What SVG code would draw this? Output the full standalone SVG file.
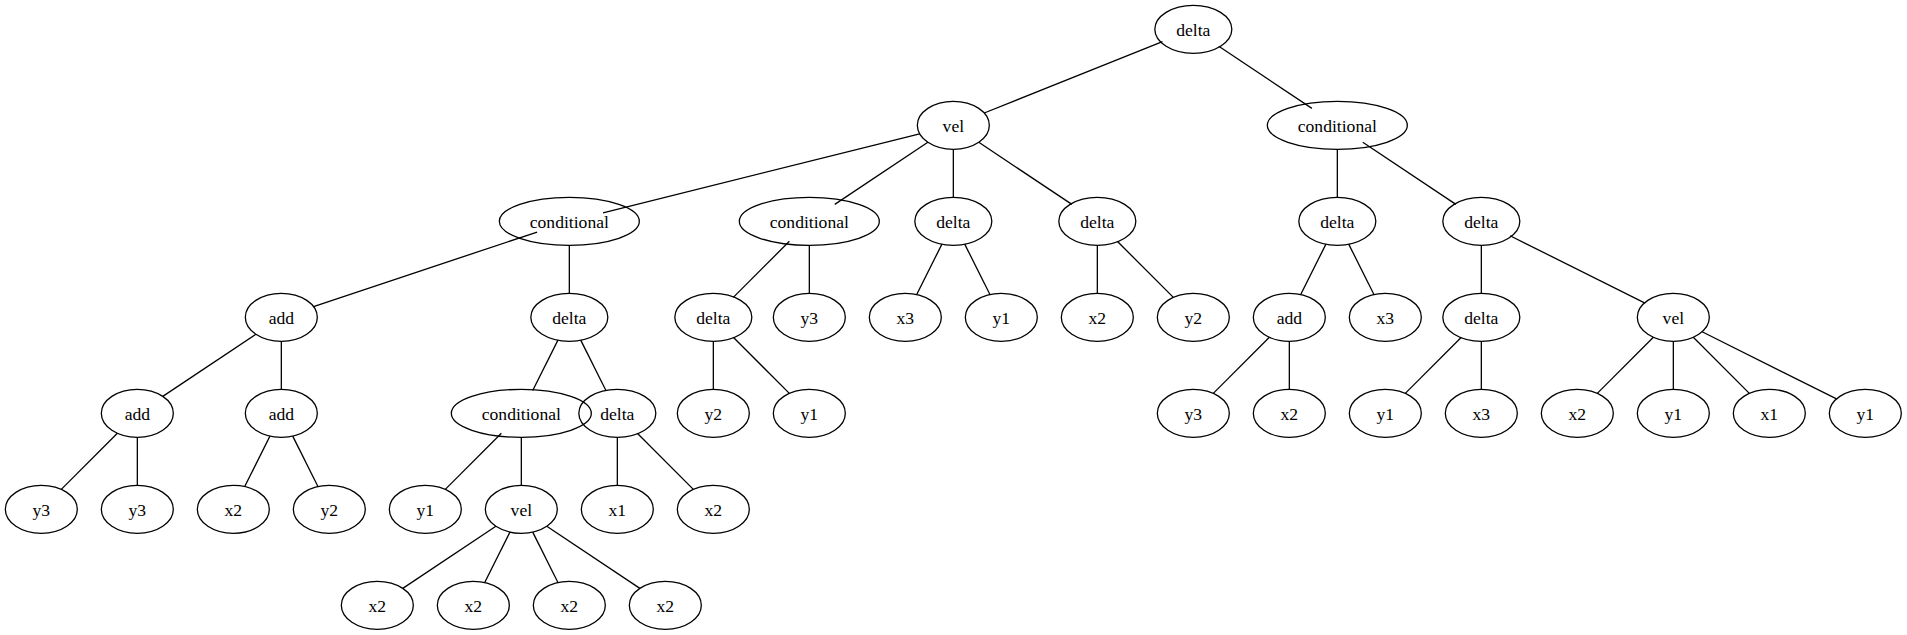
<svg xmlns="http://www.w3.org/2000/svg" width="1907" height="635" viewBox="0 0 1907 635">
<style>
.n ellipse{fill:none;stroke:#000;stroke-width:1.3}
.n text{font-family:"Liberation Serif","Times New Roman",serif;font-size:17.6px;text-anchor:middle;fill:#000}
#edges line{stroke:#000;stroke-width:1.3}
</style>
<rect width="1907" height="635" fill="#fff"/>
<g id="edges">
<line x1="1162.46" y1="41.68" x2="984.2" y2="112.98"/>
<line x1="1218.79" y1="46.3" x2="1311.87" y2="108.36"/>
<line x1="919.62" y1="133.76" x2="603.04" y2="212.9"/>
<line x1="927.87" y1="142.3" x2="834.79" y2="204.36"/>
<line x1="953.33" y1="149.33" x2="953.33" y2="197.33"/>
<line x1="978.79" y1="142.3" x2="1071.87" y2="204.36"/>
<line x1="1337.33" y1="149.33" x2="1337.33" y2="197.33"/>
<line x1="1362.79" y1="142.3" x2="1455.87" y2="204.36"/>
<line x1="537.13" y1="232.06" x2="313.53" y2="306.6"/>
<line x1="569.33" y1="245.33" x2="569.33" y2="293.33"/>
<line x1="789.36" y1="241.3" x2="733.3" y2="297.36"/>
<line x1="809.33" y1="245.33" x2="809.33" y2="293.33"/>
<line x1="941.95" y1="244.1" x2="916.71" y2="294.56"/>
<line x1="964.71" y1="244.1" x2="989.95" y2="294.56"/>
<line x1="1097.33" y1="245.33" x2="1097.33" y2="293.33"/>
<line x1="1117.3" y1="241.3" x2="1173.36" y2="297.36"/>
<line x1="1325.95" y1="244.1" x2="1300.71" y2="294.56"/>
<line x1="1348.71" y1="244.1" x2="1373.95" y2="294.56"/>
<line x1="1481.33" y1="245.33" x2="1481.33" y2="293.33"/>
<line x1="1510.13" y1="235.73" x2="1644.53" y2="302.93"/>
<line x1="255.87" y1="334.3" x2="162.79" y2="396.36"/>
<line x1="281.33" y1="341.33" x2="281.33" y2="389.33"/>
<line x1="557.95" y1="340.1" x2="532.71" y2="390.56"/>
<line x1="580.71" y1="340.1" x2="605.95" y2="390.56"/>
<line x1="713.33" y1="341.33" x2="713.33" y2="389.33"/>
<line x1="733.3" y1="337.3" x2="789.36" y2="393.36"/>
<line x1="1269.36" y1="337.3" x2="1213.3" y2="393.36"/>
<line x1="1289.33" y1="341.33" x2="1289.33" y2="389.33"/>
<line x1="1461.36" y1="337.3" x2="1405.3" y2="393.36"/>
<line x1="1481.33" y1="341.33" x2="1481.33" y2="389.33"/>
<line x1="1653.36" y1="337.3" x2="1597.3" y2="393.36"/>
<line x1="1673.33" y1="341.33" x2="1673.33" y2="389.33"/>
<line x1="1693.3" y1="337.3" x2="1749.36" y2="393.36"/>
<line x1="1702.13" y1="331.73" x2="1836.53" y2="398.93"/>
<line x1="117.36" y1="433.3" x2="61.3" y2="489.36"/>
<line x1="137.33" y1="437.33" x2="137.33" y2="485.33"/>
<line x1="269.95" y1="436.1" x2="244.71" y2="486.56"/>
<line x1="292.71" y1="436.1" x2="317.95" y2="486.56"/>
<line x1="501.36" y1="433.3" x2="445.3" y2="489.36"/>
<line x1="521.33" y1="437.33" x2="521.33" y2="485.33"/>
<line x1="617.33" y1="437.33" x2="617.33" y2="485.33"/>
<line x1="637.3" y1="433.3" x2="693.36" y2="489.36"/>
<line x1="495.87" y1="526.3" x2="402.79" y2="588.36"/>
<line x1="509.95" y1="532.1" x2="484.71" y2="582.56"/>
<line x1="532.71" y1="532.1" x2="557.95" y2="582.56"/>
<line x1="546.79" y1="526.3" x2="639.87" y2="588.36"/>
</g>
<g id="n0" class="n"><ellipse cx="1193.33" cy="29.33" rx="38.5" ry="24"/><text x="1193.33" y="35.6">delta</text></g>
<g id="n1" class="n"><ellipse cx="953.33" cy="125.33" rx="36" ry="24"/><text x="953.33" y="131.6">vel</text></g>
<g id="n2" class="n"><ellipse cx="1337.33" cy="125.33" rx="70" ry="24"/><text x="1337.33" y="131.6">conditional</text></g>
<g id="n3" class="n"><ellipse cx="569.33" cy="221.33" rx="70" ry="24"/><text x="569.33" y="227.6">conditional</text></g>
<g id="n4" class="n"><ellipse cx="809.33" cy="221.33" rx="70" ry="24"/><text x="809.33" y="227.6">conditional</text></g>
<g id="n5" class="n"><ellipse cx="953.33" cy="221.33" rx="38.5" ry="24"/><text x="953.33" y="227.6">delta</text></g>
<g id="n6" class="n"><ellipse cx="1097.33" cy="221.33" rx="38.5" ry="24"/><text x="1097.33" y="227.6">delta</text></g>
<g id="n7" class="n"><ellipse cx="1337.33" cy="221.33" rx="38.5" ry="24"/><text x="1337.33" y="227.6">delta</text></g>
<g id="n8" class="n"><ellipse cx="1481.33" cy="221.33" rx="38.5" ry="24"/><text x="1481.33" y="227.6">delta</text></g>
<g id="n9" class="n"><ellipse cx="281.33" cy="317.33" rx="36" ry="24"/><text x="281.33" y="323.6">add</text></g>
<g id="n10" class="n"><ellipse cx="569.33" cy="317.33" rx="38.5" ry="24"/><text x="569.33" y="323.6">delta</text></g>
<g id="n11" class="n"><ellipse cx="713.33" cy="317.33" rx="38.5" ry="24"/><text x="713.33" y="323.6">delta</text></g>
<g id="n12" class="n"><ellipse cx="809.33" cy="317.33" rx="36" ry="24"/><text x="809.33" y="323.6">y3</text></g>
<g id="n13" class="n"><ellipse cx="905.33" cy="317.33" rx="36" ry="24"/><text x="905.33" y="323.6">x3</text></g>
<g id="n14" class="n"><ellipse cx="1001.33" cy="317.33" rx="36" ry="24"/><text x="1001.33" y="323.6">y1</text></g>
<g id="n15" class="n"><ellipse cx="1097.33" cy="317.33" rx="36" ry="24"/><text x="1097.33" y="323.6">x2</text></g>
<g id="n16" class="n"><ellipse cx="1193.33" cy="317.33" rx="36" ry="24"/><text x="1193.33" y="323.6">y2</text></g>
<g id="n17" class="n"><ellipse cx="1289.33" cy="317.33" rx="36" ry="24"/><text x="1289.33" y="323.6">add</text></g>
<g id="n18" class="n"><ellipse cx="1385.33" cy="317.33" rx="36" ry="24"/><text x="1385.33" y="323.6">x3</text></g>
<g id="n19" class="n"><ellipse cx="1481.33" cy="317.33" rx="38.5" ry="24"/><text x="1481.33" y="323.6">delta</text></g>
<g id="n20" class="n"><ellipse cx="1673.33" cy="317.33" rx="36" ry="24"/><text x="1673.33" y="323.6">vel</text></g>
<g id="n21" class="n"><ellipse cx="137.33" cy="413.33" rx="36" ry="24"/><text x="137.33" y="419.6">add</text></g>
<g id="n22" class="n"><ellipse cx="281.33" cy="413.33" rx="36" ry="24"/><text x="281.33" y="419.6">add</text></g>
<g id="n23" class="n"><ellipse cx="521.33" cy="413.33" rx="70" ry="24"/><text x="521.33" y="419.6">conditional</text></g>
<g id="n24" class="n"><ellipse cx="617.33" cy="413.33" rx="38.5" ry="24"/><text x="617.33" y="419.6">delta</text></g>
<g id="n25" class="n"><ellipse cx="713.33" cy="413.33" rx="36" ry="24"/><text x="713.33" y="419.6">y2</text></g>
<g id="n26" class="n"><ellipse cx="809.33" cy="413.33" rx="36" ry="24"/><text x="809.33" y="419.6">y1</text></g>
<g id="n27" class="n"><ellipse cx="1193.33" cy="413.33" rx="36" ry="24"/><text x="1193.33" y="419.6">y3</text></g>
<g id="n28" class="n"><ellipse cx="1289.33" cy="413.33" rx="36" ry="24"/><text x="1289.33" y="419.6">x2</text></g>
<g id="n29" class="n"><ellipse cx="1385.33" cy="413.33" rx="36" ry="24"/><text x="1385.33" y="419.6">y1</text></g>
<g id="n30" class="n"><ellipse cx="1481.33" cy="413.33" rx="36" ry="24"/><text x="1481.33" y="419.6">x3</text></g>
<g id="n31" class="n"><ellipse cx="1577.33" cy="413.33" rx="36" ry="24"/><text x="1577.33" y="419.6">x2</text></g>
<g id="n32" class="n"><ellipse cx="1673.33" cy="413.33" rx="36" ry="24"/><text x="1673.33" y="419.6">y1</text></g>
<g id="n33" class="n"><ellipse cx="1769.33" cy="413.33" rx="36" ry="24"/><text x="1769.33" y="419.6">x1</text></g>
<g id="n34" class="n"><ellipse cx="1865.33" cy="413.33" rx="36" ry="24"/><text x="1865.33" y="419.6">y1</text></g>
<g id="n35" class="n"><ellipse cx="41.33" cy="509.33" rx="36" ry="24"/><text x="41.33" y="515.6">y3</text></g>
<g id="n36" class="n"><ellipse cx="137.33" cy="509.33" rx="36" ry="24"/><text x="137.33" y="515.6">y3</text></g>
<g id="n37" class="n"><ellipse cx="233.33" cy="509.33" rx="36" ry="24"/><text x="233.33" y="515.6">x2</text></g>
<g id="n38" class="n"><ellipse cx="329.33" cy="509.33" rx="36" ry="24"/><text x="329.33" y="515.6">y2</text></g>
<g id="n39" class="n"><ellipse cx="425.33" cy="509.33" rx="36" ry="24"/><text x="425.33" y="515.6">y1</text></g>
<g id="n40" class="n"><ellipse cx="521.33" cy="509.33" rx="36" ry="24"/><text x="521.33" y="515.6">vel</text></g>
<g id="n41" class="n"><ellipse cx="617.33" cy="509.33" rx="36" ry="24"/><text x="617.33" y="515.6">x1</text></g>
<g id="n42" class="n"><ellipse cx="713.33" cy="509.33" rx="36" ry="24"/><text x="713.33" y="515.6">x2</text></g>
<g id="n43" class="n"><ellipse cx="377.33" cy="605.33" rx="36" ry="24"/><text x="377.33" y="611.6">x2</text></g>
<g id="n44" class="n"><ellipse cx="473.33" cy="605.33" rx="36" ry="24"/><text x="473.33" y="611.6">x2</text></g>
<g id="n45" class="n"><ellipse cx="569.33" cy="605.33" rx="36" ry="24"/><text x="569.33" y="611.6">x2</text></g>
<g id="n46" class="n"><ellipse cx="665.33" cy="605.33" rx="36" ry="24"/><text x="665.33" y="611.6">x2</text></g>
</svg>
